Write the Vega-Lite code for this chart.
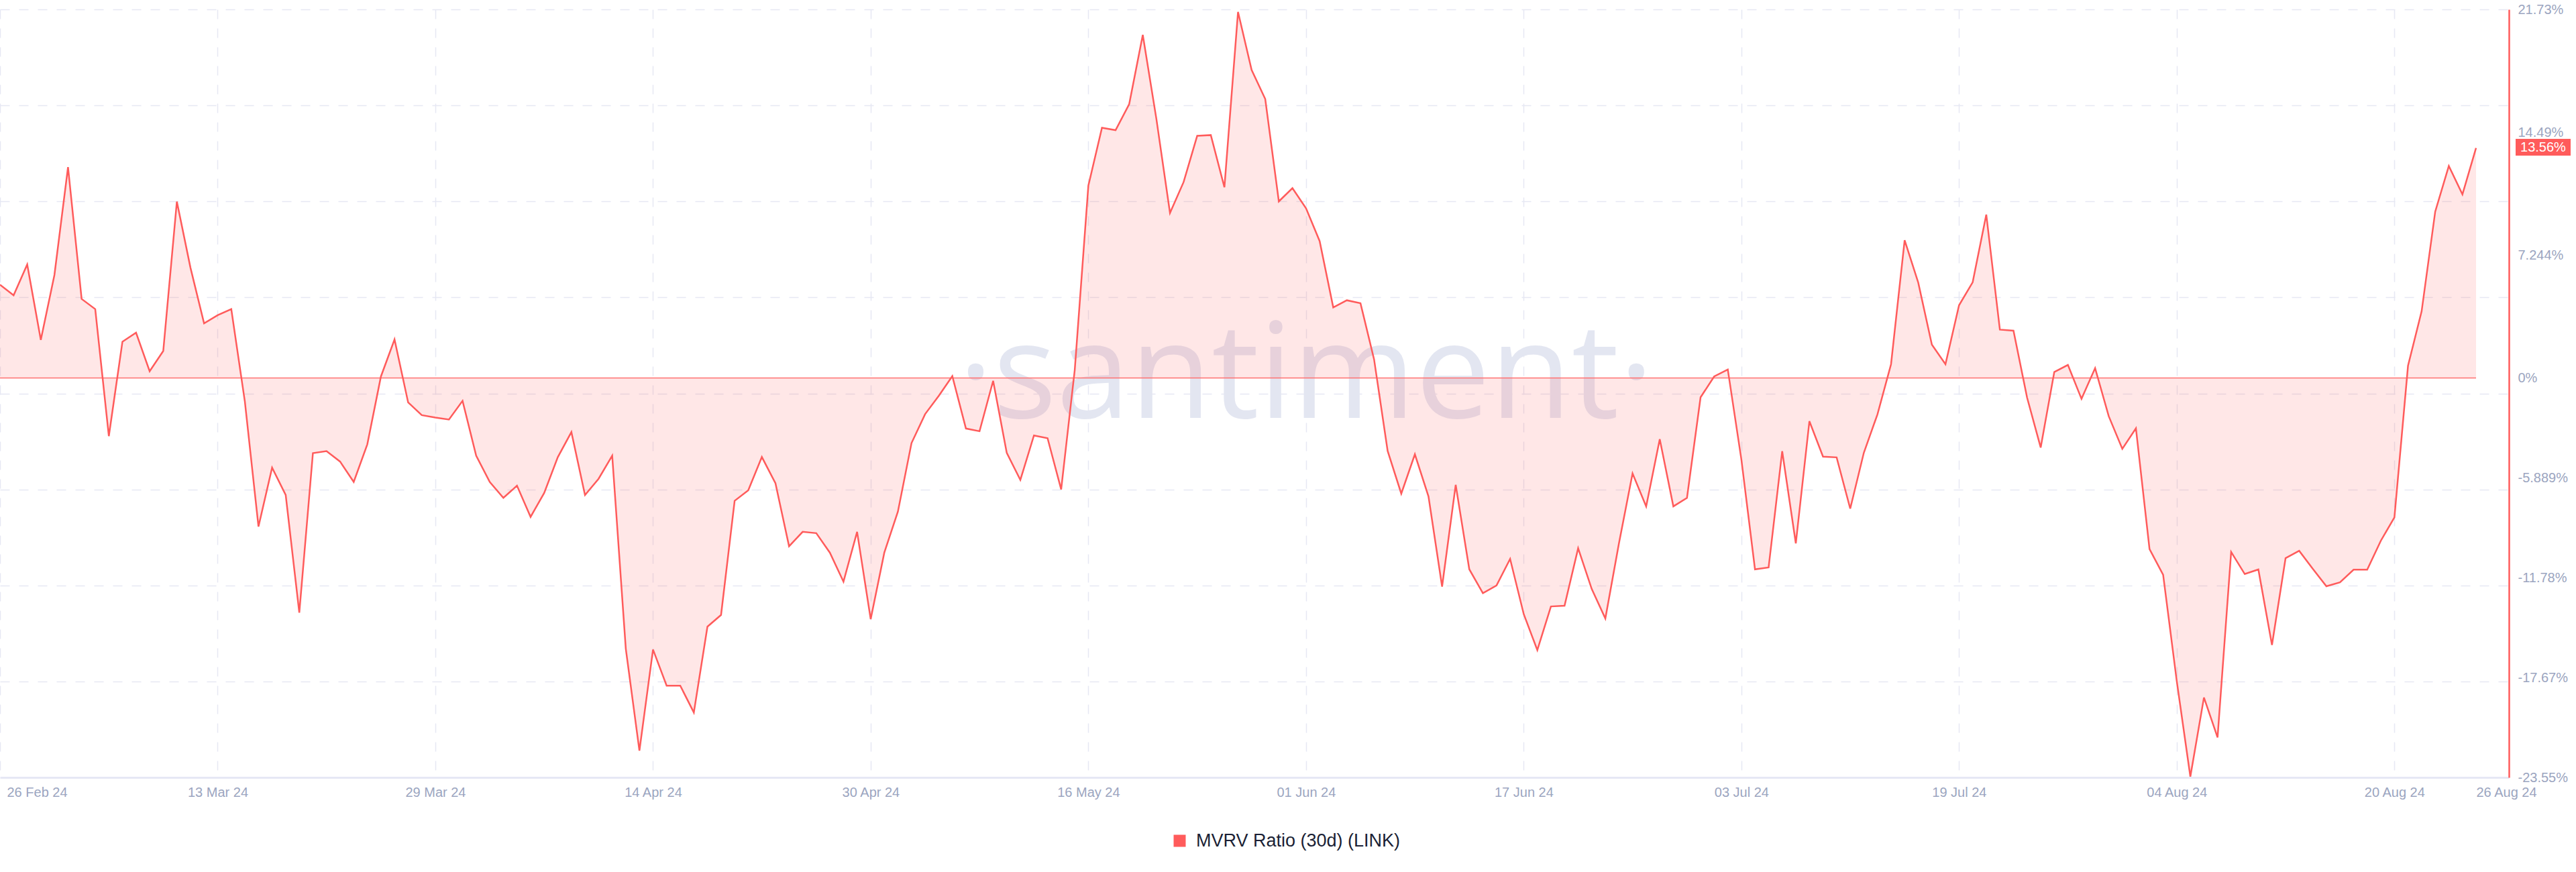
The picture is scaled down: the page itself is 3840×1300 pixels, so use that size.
{
"$schema": "https://vega.github.io/schema/vega-lite/v6.json",
"width": 3740, "height": 1145,
"autosize": {"type": "none"},
"padding": {"left": 0, "top": 14, "right": 100, "bottom": 141},
"background": "white",
"config": {"view": {"stroke": null}, "font": "Liberation Sans"},
"data": {"values": [
{"date":"2024-02-26","v":5.50},{"date":"2024-02-27","v":4.87},{"date":"2024-02-28","v":6.69},{"date":"2024-02-29","v":2.24},
{"date":"2024-03-01","v":6.07},{"date":"2024-03-02","v":12.43},{"date":"2024-03-03","v":4.66},{"date":"2024-03-04","v":4.06},{"date":"2024-03-05","v":-3.43},{"date":"2024-03-06","v":2.14},{"date":"2024-03-07","v":2.67},{"date":"2024-03-08","v":0.40},{"date":"2024-03-09","v":1.59},{"date":"2024-03-10","v":10.40},{"date":"2024-03-11","v":6.50},{"date":"2024-03-12","v":3.22},{"date":"2024-03-13","v":3.70},{"date":"2024-03-14","v":4.06},{"date":"2024-03-15","v":-1.40},{"date":"2024-03-16","v":-8.76},{"date":"2024-03-17","v":-5.29},{"date":"2024-03-18","v":-6.90},{"date":"2024-03-19","v":-13.84},{"date":"2024-03-20","v":-4.43},{"date":"2024-03-21","v":-4.31},{"date":"2024-03-22","v":-4.93},{"date":"2024-03-23","v":-6.13},{"date":"2024-03-24","v":-3.91},{"date":"2024-03-25","v":0.09},{"date":"2024-03-26","v":2.27},{"date":"2024-03-27","v":-1.44},{"date":"2024-03-28","v":-2.19},{"date":"2024-03-29","v":-2.33},{"date":"2024-03-30","v":-2.45},{"date":"2024-03-31","v":-1.35},
{"date":"2024-04-01","v":-4.58},{"date":"2024-04-02","v":-6.13},{"date":"2024-04-03","v":-7.07},{"date":"2024-04-04","v":-6.35},{"date":"2024-04-05","v":-8.19},{"date":"2024-04-06","v":-6.78},{"date":"2024-04-07","v":-4.67},{"date":"2024-04-08","v":-3.19},{"date":"2024-04-09","v":-6.90},{"date":"2024-04-10","v":-5.94},{"date":"2024-04-11","v":-4.58},{"date":"2024-04-12","v":-15.97},{"date":"2024-04-13","v":-21.97},{"date":"2024-04-14","v":-16.01},{"date":"2024-04-15","v":-18.14},{"date":"2024-04-16","v":-18.14},{"date":"2024-04-17","v":-19.72},{"date":"2024-04-18","v":-14.66},{"date":"2024-04-19","v":-13.97},{"date":"2024-04-20","v":-7.24},{"date":"2024-04-21","v":-6.62},{"date":"2024-04-22","v":-4.66},{"date":"2024-04-23","v":-6.21},{"date":"2024-04-24","v":-9.92},{"date":"2024-04-25","v":-9.07},{"date":"2024-04-26","v":-9.15},{"date":"2024-04-27","v":-10.30},{"date":"2024-04-28","v":-12.01},{"date":"2024-04-29","v":-9.07},{"date":"2024-04-30","v":-14.22},
{"date":"2024-05-01","v":-10.30},{"date":"2024-05-02","v":-7.88},{"date":"2024-05-03","v":-3.84},{"date":"2024-05-04","v":-2.13},{"date":"2024-05-05","v":-1.06},{"date":"2024-05-06","v":0.11},{"date":"2024-05-07","v":-2.98},{"date":"2024-05-08","v":-3.14},{"date":"2024-05-09","v":-0.17},{"date":"2024-05-10","v":-4.41},{"date":"2024-05-11","v":-6.01},{"date":"2024-05-12","v":-3.39},{"date":"2024-05-13","v":-3.55},{"date":"2024-05-14","v":-6.57},{"date":"2024-05-15","v":0.48},{"date":"2024-05-16","v":11.34},{"date":"2024-05-17","v":14.75},{"date":"2024-05-18","v":14.61},{"date":"2024-05-19","v":16.14},{"date":"2024-05-20","v":20.23},{"date":"2024-05-21","v":15.27},{"date":"2024-05-22","v":9.73},{"date":"2024-05-23","v":11.55},{"date":"2024-05-24","v":14.28},{"date":"2024-05-25","v":14.32},{"date":"2024-05-26","v":11.24},{"date":"2024-05-27","v":21.58},{"date":"2024-05-28","v":18.16},{"date":"2024-05-29","v":16.45},{"date":"2024-05-30","v":10.41},{"date":"2024-05-31","v":11.19},
{"date":"2024-06-01","v":10.00},{"date":"2024-06-02","v":8.07},{"date":"2024-06-03","v":4.16},{"date":"2024-06-04","v":4.58},{"date":"2024-06-05","v":4.41},{"date":"2024-06-06","v":1.10},{"date":"2024-06-07","v":-4.31},{"date":"2024-06-08","v":-6.82},{"date":"2024-06-09","v":-4.50},{"date":"2024-06-10","v":-6.98},{"date":"2024-06-11","v":-12.30},{"date":"2024-06-12","v":-6.30},{"date":"2024-06-13","v":-11.28},{"date":"2024-06-14","v":-12.69},{"date":"2024-06-15","v":-12.23},{"date":"2024-06-16","v":-10.67},{"date":"2024-06-17","v":-13.92},{"date":"2024-06-18","v":-16.04},{"date":"2024-06-19","v":-13.47},{"date":"2024-06-20","v":-13.43},{"date":"2024-06-21","v":-10.04},{"date":"2024-06-22","v":-12.44},{"date":"2024-06-23","v":-14.18},{"date":"2024-06-24","v":-9.75},{"date":"2024-06-25","v":-5.63},{"date":"2024-06-26","v":-7.57},{"date":"2024-06-27","v":-3.61},{"date":"2024-06-28","v":-7.57},{"date":"2024-06-29","v":-7.07},{"date":"2024-06-30","v":-1.14},
{"date":"2024-07-01","v":0.09},{"date":"2024-07-02","v":0.50},{"date":"2024-07-03","v":-4.81},{"date":"2024-07-04","v":-11.28},{"date":"2024-07-05","v":-11.17},{"date":"2024-07-06","v":-4.32},{"date":"2024-07-07","v":-9.75},{"date":"2024-07-08","v":-2.55},{"date":"2024-07-09","v":-4.64},{"date":"2024-07-10","v":-4.68},{"date":"2024-07-11","v":-7.70},{"date":"2024-07-12","v":-4.41},{"date":"2024-07-13","v":-2.15},{"date":"2024-07-14","v":0.81},{"date":"2024-07-15","v":8.12},{"date":"2024-07-16","v":5.62},{"date":"2024-07-17","v":1.97},{"date":"2024-07-18","v":0.81},{"date":"2024-07-19","v":4.29},{"date":"2024-07-20","v":5.64},{"date":"2024-07-21","v":9.63},{"date":"2024-07-22","v":2.85},{"date":"2024-07-23","v":2.79},{"date":"2024-07-24","v":-1.16},{"date":"2024-07-25","v":-4.10},{"date":"2024-07-26","v":0.35},{"date":"2024-07-27","v":0.77},{"date":"2024-07-28","v":-1.23},{"date":"2024-07-29","v":0.58},{"date":"2024-07-30","v":-2.25},{"date":"2024-07-31","v":-4.18},
{"date":"2024-08-01","v":-2.97},{"date":"2024-08-02","v":-10.09},{"date":"2024-08-03","v":-11.60},{"date":"2024-08-04","v":-17.86},{"date":"2024-08-05","v":-23.50},{"date":"2024-08-06","v":-18.84},{"date":"2024-08-07","v":-21.19},{"date":"2024-08-08","v":-10.26},{"date":"2024-08-09","v":-11.56},{"date":"2024-08-10","v":-11.29},{"date":"2024-08-11","v":-15.74},{"date":"2024-08-12","v":-10.62},{"date":"2024-08-13","v":-10.19},{"date":"2024-08-14","v":-11.25},{"date":"2024-08-15","v":-12.28},{"date":"2024-08-16","v":-12.05},{"date":"2024-08-17","v":-11.30},{"date":"2024-08-18","v":-11.30},{"date":"2024-08-19","v":-9.60},{"date":"2024-08-20","v":-8.22},{"date":"2024-08-21","v":0.72},{"date":"2024-08-22","v":3.93},{"date":"2024-08-23","v":9.81},{"date":"2024-08-24","v":12.50},{"date":"2024-08-25","v":10.82},{"date":"2024-08-26","v":13.56}
]},
"resolve": {"axis": {"y": "independent"}},
"layer": [
{
"data": {"values": [{}]},
"mark": {"type": "text", "text": "·santiment·", "font": "Open Sans", "fontSize": 198, "color": "#e3e6f1", "align": "center", "baseline": "alphabetic"},
"encoding": {
"x": {"datum": {"year": 2024, "month": "jun", "date": 1, "utc": true}, "type": "temporal"},
"y": {"datum": -2.35, "type": "quantitative", "axis": null}
}
},
{
"mark": {"type": "area", "color": "#ff5b5b", "opacity": 0.15},
"encoding": {
"x": {"field": "date", "type": "temporal",
"scale": {"type": "utc", "domain": [{"year": 2024, "month": "feb", "date": 26, "utc": true}, {"year": 2024, "month": "aug", "date": 28, "hours": 10, "utc": true}]},
"axis": {
"title": null,
"values": [
{"year": 2024, "month": "feb", "date": 26, "utc": true},
{"year": 2024, "month": "mar", "date": 13, "utc": true},
{"year": 2024, "month": "mar", "date": 29, "utc": true},
{"year": 2024, "month": "apr", "date": 14, "utc": true},
{"year": 2024, "month": "apr", "date": 30, "utc": true},
{"year": 2024, "month": "may", "date": 16, "utc": true},
{"year": 2024, "month": "jun", "date": 1, "utc": true},
{"year": 2024, "month": "jun", "date": 17, "utc": true},
{"year": 2024, "month": "jul", "date": 3, "utc": true},
{"year": 2024, "month": "jul", "date": 19, "utc": true},
{"year": 2024, "month": "aug", "date": 4, "utc": true},
{"year": 2024, "month": "aug", "date": 20, "utc": true},
{"year": 2024, "month": "aug", "date": 26, "utc": true}
],
"labelExpr": "utcFormat(datum.value, '%d %b %y')",
"grid": true, "gridColor": "#e6e8f3", "gridDash": [14, 14], "gridWidth": 1.5,
"gridOpacity": {"condition": {"test": "datum.value > utc(2024,7,21)", "value": 0}, "value": 1},
"ticks": false, "domain": true, "domainColor": "#e6e8f5", "domainWidth": 3,
"labelColor": "#9ba5c0", "labelFontSize": 20, "labelPadding": 12,
"labelFlush": false, "labelOverlap": false, "labelBound": false,
"labelAlign": {"condition": {"test": "datum.value < utc(2024,1,27) || datum.value > utc(2024,7,21)", "value": "left"}, "value": "center"},
"labelOffset": {"condition": {"test": "datum.value < utc(2024,1,27)", "value": 10}, "value": 0}
}
},
"y": {"field": "v", "type": "quantitative",
"scale": {"domain": [-23.55, 21.73], "nice": false, "zero": false},
"axis": {"orient": "left", "title": null, "values": [21.73, 16.07, 10.41, 4.75, -0.91, -6.57, -12.23, -17.89],
"grid": true, "gridColor": "#e6e8f3", "gridDash": [14, 14], "gridWidth": 1.5,
"labels": false, "ticks": false, "domain": false}
},
"y2": {"datum": 0}
}
},
{
"mark": {"type": "rule", "color": "#ff6f6f", "strokeWidth": 1.5},
"encoding": {
"x": {"aggregate": "min", "field": "date", "type": "temporal"},
"x2": {"aggregate": "max", "field": "date"},
"y": {"datum": 0, "type": "quantitative", "axis": null}
}
},
{
"mark": {"type": "line", "color": "#ff5b5b", "strokeWidth": 2.5},
"encoding": {
"x": {"field": "date", "type": "temporal"},
"y": {"field": "v", "type": "quantitative",
"axis": {"orient": "right", "title": null, "values": [-23.55, -17.67, -11.78, -5.889, 0, 7.244, 14.49, 21.73],
"labelExpr": "datum.value + '%'", "grid": false, "ticks": false,
"domain": true, "domainColor": "#ff5b5b", "domainWidth": 2.5,
"labelColor": "#9ba5c0", "labelFontSize": 20, "labelPadding": 13, "labelAlign": "left", "labelBaseline": "middle",
"labelOverlap": false, "labelBound": false, "labelFlush": false}
}
}
},
{
"transform": [{"joinaggregate": [{"op": "max", "field": "date", "as": "maxd"}]}, {"filter": "time(datum.date) === time(datum.maxd)"}],
"mark": {"type": "point", "shape": "M5.9,-1.35L14.1,-1.35L14.1,1.15L5.9,1.15Z", "size": 400, "filled": true, "opacity": 1, "strokeWidth": 0},
"encoding": {
"x": {"field": "date", "type": "temporal"},
"y": {"field": "v", "type": "quantitative", "axis": null},
"color": {"datum": "MVRV Ratio (30d) (LINK)", "type": "nominal", "scale": {"range": ["#ff5b5b"]},
"legend": {"orient": "none", "legendX": 1745, "legendY": 1226, "title": null, "symbolType": "square", "symbolSize": 324,
"symbolFillColor": "#ff5b5b", "symbolStrokeWidth": 0, "symbolOpacity": 1, "labelFontSize": 27, "labelColor": "#1b1f35",
"labelFont": "Liberation Sans", "labelOffset": 11, "labelLimit": 0, "padding": 0}}
}
},
{
"transform": [{"joinaggregate": [{"op": "max", "field": "date", "as": "maxd"}]}, {"filter": "time(datum.date) === time(datum.maxd)"}, {"calculate": "format(datum.v, '.2f') + '%'", "as": "lbl"}],
"mark": {"type": "text", "color": "white", "fontSize": 20, "align": "center", "baseline": "middle", "dx": 100, "dy": -1},
"encoding": {
"x": {"field": "date", "type": "temporal"},
"y": {"field": "v", "type": "quantitative", "axis": null},
"text": {"field": "lbl"}
}
}
]
}
